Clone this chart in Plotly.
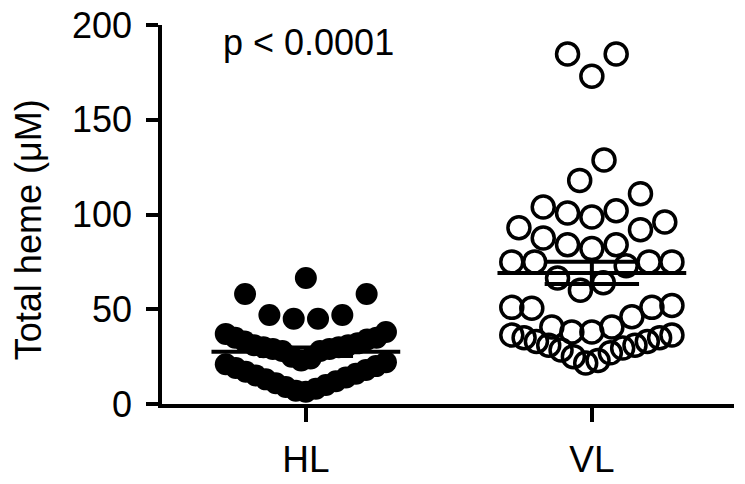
import numpy as np
import plotly.graph_objects as go

# Datos (µM de hemo total por grupo)
groups = ['HL', 'VL']
hl_values = [66.5, 58, 58, 47, 47, 45, 45,
             37, 38, 35, 35, 34, 33, 32, 31, 31, 30, 30, 29, 29, 28, 28,
             25, 24, 23, 22, 21, 20, 19, 18, 17, 16, 15, 14, 13, 12, 11, 10,
             9, 8, 7, 6.5]
vl_values = [184.7, 184.7, 173, 128.8, 118, 111,
             104, 102, 100.8, 98.7, 96, 93, 92, 87.6, 84, 84, 82,
             75, 75, 75, 75, 73, 66.5, 64, 60,
             52, 51, 51, 50.5, 46, 40.6, 40.6,
             38, 38, 36.4, 36.4, 35, 35, 33, 33, 31, 31, 29.5, 28.5, 27, 25,
             23, 21.6]
p_text = 'p < 0.0001'

FONT = 'Arial, Liberation Sans, Helvetica, sans-serif'


def swarm(values, bin_w=16, gap=0.085, half=0.28):
    '''Reparte los puntos en franjas horizontales (estilo Prism)'''
    v = np.sort(np.asarray(values, float))
    off = np.zeros(len(v))
    start = 0
    while start < len(v):
        end = start
        while end < len(v) and v[end] < v[start] + bin_w:
            end += 1
        n = end - start
        g = gap if n < 2 else min(gap, 2 * half / (n - 1))
        for i in range(n):
            if n % 2:
                k = (i + 1) // 2
                sign = -1 if i % 2 else 1
            else:
                k = i // 2 + 0.5
                sign = -1 if i % 2 == 0 else 1
            off[start + i] = sign * k * g
        start = end
    return v, off


fig = go.Figure()

styles = [
    dict(symbol='circle', size=22, color='black'),
    dict(symbol='circle-open', size=22, color='black', line=dict(width=3.5, color='black')),
]

for i, (vals, mk) in enumerate(zip([hl_values, vl_values], styles)):
    y, dx = swarm(vals)
    fig.add_trace(go.Scatter(
        x=i + dx, y=y, mode='markers', marker=mk,
        cliponaxis=False, showlegend=False, hoverinfo='y'
    ))

# Media y error estándar
for i, vals in enumerate([hl_values, vl_values]):
    arr = np.asarray(vals, float)
    mean = arr.mean()
    sem = arr.std(ddof=1) / np.sqrt(len(arr))
    line = dict(color='black', width=4)
    fig.add_trace(go.Scatter(x=[i - 0.33, i + 0.33], y=[mean, mean], mode='lines',
                             line=line, showlegend=False, hoverinfo='skip'))
    fig.add_trace(go.Scatter(
        x=[i - 0.165, i + 0.165, None, i, i, None, i - 0.165, i + 0.165],
        y=[mean + sem, mean + sem, None, mean - sem, mean + sem, None, mean - sem, mean - sem],
        mode='lines', line=line, showlegend=False, hoverinfo='skip'))

fig.update_layout(
    width=745, height=484,
    margin=dict(l=162, r=11, t=25, b=80),
    plot_bgcolor='white', paper_bgcolor='white',
    font=dict(family=FONT, size=36, color='black'),
    xaxis=dict(
        range=[-0.503, 1.497], tickvals=[0, 1], ticktext=groups,
        showline=True, linewidth=3.5, linecolor='black',
        ticks='outside', ticklen=14, tickwidth=3.5, tickcolor='black',
        showgrid=False, zeroline=False, tickfont=dict(size=37),
        automargin=False, ticklabelstandoff=6
    ),
    yaxis=dict(
        range=[0, 200], tickvals=[0, 50, 100, 150, 200],
        showline=True, linewidth=3.5, linecolor='black',
        ticks='outside', ticklen=12, tickwidth=3.5, tickcolor='black',
        showgrid=False, zeroline=False, tickfont=dict(size=36),
        automargin=False, ticklabelstandoff=7, ticklabeloverflow='allow'
    ),
    annotations=[
        dict(text='Total heme (\u03bcM)', textangle=-90, showarrow=False,
             xref='paper', yref='paper', x=-0.234, y=0.459,
             xanchor='center', yanchor='middle', font=dict(size=36)),
        dict(text=p_text, showarrow=False, xref='x', yref='y',
             x=0.01, y=191, xanchor='center', yanchor='middle',
             font=dict(size=36)),
    ],
)

# Quitar el margen por defecto de la página para que la figura llene la ventana
fig.write_html('out.html', config={'displayModeBar': False},
               post_script="document.body.style.margin = '0';")
